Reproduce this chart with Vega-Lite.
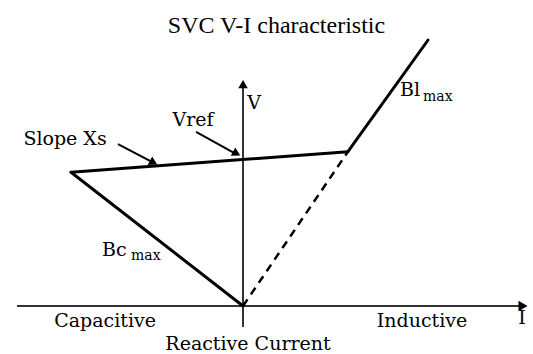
{
  "$schema": "https://vega.github.io/schema/vega-lite/v6.json",
  "width": 533,
  "height": 314,
  "autosize": {"type": "none"},
  "padding": {"top": 40, "left": 0, "right": 0, "bottom": 0},
  "background": "white",
  "config": {"view": {"stroke": null}},
  "title": {
    "text": "SVC V-I characteristic",
    "font": "Liberation Serif",
    "fontSize": 24,
    "fontWeight": "normal",
    "color": "black",
    "anchor": "middle",
    "offset": 1,
    "dx": 10
  },
  "datasets": {
    "segments": [
      {"part": "I axis", "kind": "axis", "i": -1.314, "v": 0, "i2": 1.62, "v2": 0},
      {"part": "V axis", "kind": "axis", "i": 0, "v": -0.143, "i2": 0, "v2": 1.52},
      {"part": "Bc max", "kind": "limit", "i": 0, "v": 0, "i2": -1, "v2": 0.91},
      {"part": "Slope Xs", "kind": "limit", "i": -1, "v": 0.91, "i2": 0.61, "v2": 1.05},
      {"part": "Bl max", "kind": "limit", "i": 0.61, "v": 1.05, "i2": 1.076, "v2": 1.81},
      {"part": "Reactor branch", "kind": "dashed", "i": 0, "v": 0, "i2": 0.61, "v2": 1.05},
      {"part": "Slope Xs pointer", "kind": "pointer", "i": -0.727, "v": 1.102, "i2": -0.53, "v2": 0.98},
      {"part": "Vref pointer", "kind": "pointer", "i": -0.273, "v": 1.184, "i2": -0.05, "v2": 1.04}
    ],
    "heads": [
      {"target": "V axis", "i": 0, "v": 1.51},
      {"target": "I axis", "i": 1.628, "v": 0},
      {"target": "Slope Xs", "i": -0.52, "v": 0.975},
      {"target": "Vref", "i": -0.037, "v": 1.037}
    ],
    "labels": [
      {"text": "Slope Xs", "role": "main", "i": -1.035, "v": 1.136},
      {"text": "Vref", "role": "main", "i": -0.291, "v": 1.265},
      {"text": "V", "role": "main", "i": 0.064, "v": 1.381},
      {"text": "Capacitive", "role": "main", "i": -0.802, "v": -0.102},
      {"text": "Inductive", "role": "main", "i": 1.041, "v": -0.102},
      {"text": "I", "role": "main", "i": 1.622, "v": -0.082},
      {"text": "Reactive Current", "role": "main", "i": 0.029, "v": -0.262},
      {"text": "Bl", "role": "symbol", "i": 0.913, "v": 1.469},
      {"text": "max", "role": "sub", "i": 1.047, "v": 1.425},
      {"text": "Bc", "role": "symbol", "i": -0.82, "v": 0.381},
      {"text": "max", "role": "sub", "i": -0.651, "v": 0.34}
    ]
  },
  "encoding": {
    "x": {"field": "i", "type": "quantitative", "scale": {"domain": [-1.413, 1.686], "nice": false, "zero": false}, "axis": null},
    "y": {"field": "v", "type": "quantitative", "scale": {"domain": [-0.327, 1.81], "nice": false, "zero": false}, "axis": null}
  },
  "layer": [
    {
      "data": {"name": "segments"},
      "transform": [{"filter": "datum.kind === 'axis'"}],
      "mark": {"type": "rule", "color": "#333333", "strokeWidth": 2},
      "encoding": {"x2": {"field": "i2"}, "y2": {"field": "v2"}}
    },
    {
      "data": {"name": "segments"},
      "transform": [{"filter": "datum.kind === 'limit'"}],
      "mark": {"type": "rule", "color": "black", "strokeWidth": 3, "strokeCap": "round"},
      "encoding": {"x2": {"field": "i2"}, "y2": {"field": "v2"}}
    },
    {
      "data": {"name": "segments"},
      "transform": [{"filter": "datum.kind === 'dashed'"}],
      "mark": {"type": "rule", "color": "black", "strokeWidth": 2.5, "strokeDash": [8, 6]},
      "encoding": {"x2": {"field": "i2"}, "y2": {"field": "v2"}}
    },
    {
      "data": {"name": "segments"},
      "transform": [{"filter": "datum.kind === 'pointer'"}],
      "mark": {"type": "rule", "color": "black", "strokeWidth": 2},
      "encoding": {"x2": {"field": "i2"}, "y2": {"field": "v2"}}
    },
    {
      "data": {"name": "heads"},
      "transform": [{"filter": "datum.target === 'V axis'"}],
      "mark": {"type": "point", "shape": "triangle-up", "filled": true, "color": "black", "size": 90, "opacity": 1}
    },
    {
      "data": {"name": "heads"},
      "transform": [{"filter": "datum.target === 'I axis'"}],
      "mark": {"type": "point", "shape": "triangle-right", "filled": true, "color": "black", "size": 110, "opacity": 1}
    },
    {
      "data": {"name": "heads"},
      "transform": [{"filter": "datum.target === 'Slope Xs' || datum.target === 'Vref'"}],
      "mark": {"type": "point", "shape": "triangle-right", "angle": 28, "filled": true, "color": "black", "size": 90, "opacity": 1}
    },
    {
      "data": {"name": "labels"},
      "transform": [{"filter": "datum.role === 'main'"}],
      "mark": {"type": "text", "font": "DejaVu Serif", "fontSize": 19, "color": "black", "align": "center", "baseline": "middle"},
      "encoding": {"text": {"field": "text"}}
    },
    {
      "data": {"name": "labels"},
      "transform": [{"filter": "datum.role === 'symbol'"}],
      "mark": {"type": "text", "font": "DejaVu Serif", "fontSize": 19, "color": "black", "align": "left", "baseline": "middle"},
      "encoding": {"text": {"field": "text"}}
    },
    {
      "data": {"name": "labels"},
      "transform": [{"filter": "datum.role === 'sub'"}],
      "mark": {"type": "text", "font": "DejaVu Serif", "fontSize": 14, "color": "black", "align": "left", "baseline": "middle"},
      "encoding": {"text": {"field": "text"}}
    }
  ]
}
